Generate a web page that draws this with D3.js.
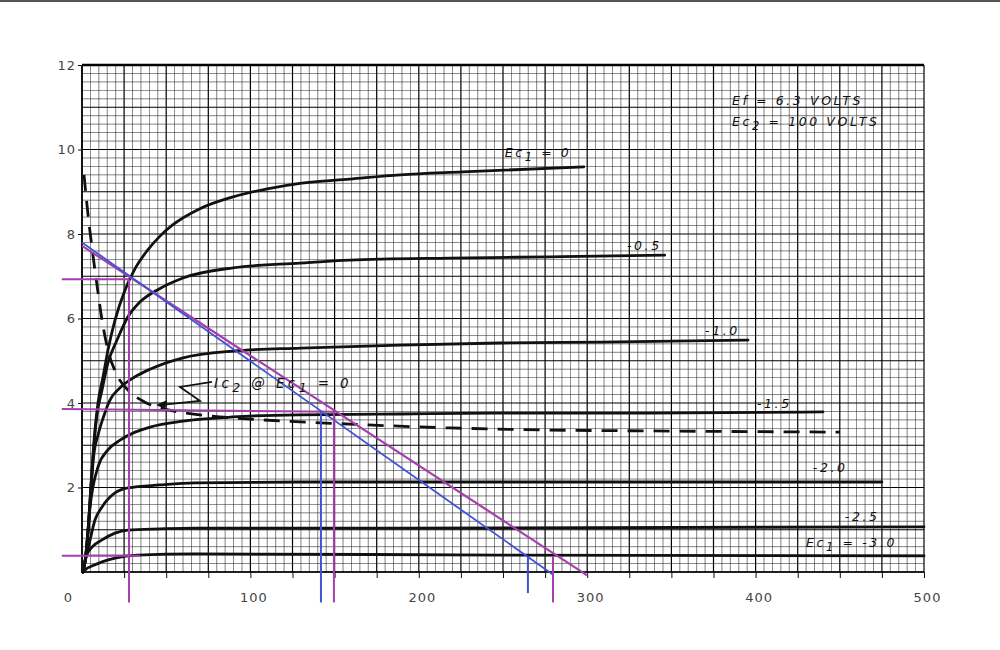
<html>
<meta charset="utf-8">
<script src="https://cdn.jsdelivr.net/npm/d3@7"></script>
<style>
body{ margin:0; background:white; }
.grid-minor{ stroke:#222; stroke-width:0.7; opacity:0.8; }
.grid-major{ stroke:#000; stroke-width:1.2; }
.curve{ fill:none; stroke:#111; stroke-width:2.8; stroke-linecap:round; }
.dashed{ fill:none; stroke:#111; stroke-width:2.8; stroke-dasharray:16,10; }
.note{ font-family:"DejaVu Sans"; font-style:italic; font-size:12.5px; letter-spacing:2.6px; fill:#111; }
.axis text{ font-family:"DejaVu Sans"; font-size:13px; fill:#444; letter-spacing:1px; }
.axis path{ display:none; }
.axis line{ stroke:#111; }
</style>
<body>
<div id="chart"></div>
<script>
// plate characteristics, Ib (mA) vs Eb (volts)
var ec0 = [[0.5,0],[2,0.3],[3.6,1.0],[5.9,2.41],[7.7,3.36],[9.5,4.0],[12.5,4.62],[15.4,5.25],[19.6,5.96],[25.5,6.67],[31.5,7.18],[38.6,7.6],[46.3,7.95],[54,8.22],[70,8.6],[89.7,8.88],[110,9.07],[129.5,9.2],[159,9.3],[189,9.4],[226,9.47],[298,9.59]];
var ec05 = [[0.5,0],[2,0.3],[3.6,0.98],[5.9,2.36],[7.7,3.28],[8.9,3.72],[11.9,4.31],[15.4,4.95],[20.8,5.49],[27.3,6.04],[34.4,6.39],[44.5,6.67],[60,6.96],[89.7,7.2],[129.5,7.31],[159,7.38],[218.5,7.43],[278,7.46],[346,7.5]];
var ec10 = [[0.5,0],[2,0.28],[3.6,0.95],[5.9,2.28],[7.1,2.8],[9.5,3.24],[12.5,3.64],[16.6,4.07],[22.6,4.36],[31.5,4.62],[40.4,4.8],[60,5.07],[89.7,5.23],[129.5,5.3],[189,5.37],[248,5.42],[307.6,5.44],[395.5,5.49]];
var ec15 = [[0.5,0],[2,0.3],[3.6,0.99],[4.8,1.54],[6.5,2.01],[9.5,2.49],[15.4,2.89],[22.6,3.12],[31.5,3.31],[40.4,3.43],[60,3.57],[89.7,3.67],[129.5,3.72],[189,3.74],[248,3.76],[337,3.76],[440,3.79]];
var ec20 = [[0.5,0],[1.8,0.24],[3,0.45],[4.8,0.76],[7.7,1.23],[11.9,1.54],[19.6,1.87],[27.3,1.99],[46.3,2.06],[67,2.11],[129.5,2.13],[248,2.13],[367,2.13],[475,2.13]];
var ec25 = [[0.5,0],[1.2,0.17],[3,0.42],[5.9,0.59],[11.9,0.76],[19.6,0.92],[27.3,0.99],[46.3,1.02],[67,1.04],[189,1.04],[500,1.07]];
var ec30 = [[0.5,0],[2.4,0.07],[5.9,0.14],[11.9,0.24],[19.6,0.33],[33,0.4],[67,0.43],[248,0.4],[500,0.38]];
// screen current at Ec1 = 0
var ic2 = [[1.2,9.4],[3.6,8.45],[6.5,7.5],[8.9,6.79],[11.9,5.96],[15.4,5.25],[20.8,4.66],[28.5,4.26],[37.4,4.02],[52,3.83],[70,3.72],[99.8,3.62],[159,3.5],[218.5,3.41],[278,3.36],[337,3.34],[450,3.31]];

// load lines and read-off lines drawn over the scan
var magentaLoad = [[0,7.72],[300,-0.08]];
var blueLoad = [[0,7.8],[280,-0.07]];
var magentaH = [[[-12,6.93],[27.9,6.93]],[[-12,3.86],[149.6,3.79]],[[-12,0.385],[34.4,0.385]]];
var magentaV = [[[27.9,6.93],[27.9,-0.72]],[[149.6,3.79],[149.6,-0.72]],[[279.7,0.38],[279.7,-0.72]]];
var blueV = [[[141.9,3.81],[141.9,-0.72]],[[264.8,0.36],[264.8,-0.5]]];

var xLabels = [0,100,200,300,400,500];
var yLabels = [2,4,6,8,10,12];

var width = 1000, height = 650;
var svg = d3.select("#chart").append("svg").attr("width",width).attr("height",height);
svg.append("rect").attr("width",width).attr("height",height).attr("fill","white");
svg.append("rect").attr("width",width).attr("height",2).attr("fill","#555");

var x = d3.scaleLinear().domain([0,500]).range([82,924]);
var y = d3.scaleLinear().domain([0,12]).range([572,65]);

// graph paper
var grid = svg.append("g");
d3.range(0,501,5).forEach(function(v){
  grid.append("line").attr("class", v%25==0 ? "grid-major" : "grid-minor")
    .attr("x1",x(v)).attr("x2",x(v)).attr("y1",y(0)).attr("y2",y(12));
});
d3.range(0,61).forEach(function(i){
  var v = i*0.2;
  grid.append("line").attr("class", i%5==0 ? "grid-major" : "grid-minor")
    .attr("x1",x(0)).attr("x2",x(500)).attr("y1",y(v)).attr("y2",y(v));
});
svg.append("line").attr("x1",x(0)).attr("x2",x(500)).attr("y1",y(12)).attr("y2",y(12))
  .attr("stroke","#000").attr("stroke-width",2.6);
svg.append("line").attr("x1",x(0)).attr("x2",x(0)).attr("y1",y(0)).attr("y2",y(12))
  .attr("stroke","#000").attr("stroke-width",1.6);
svg.append("line").attr("x1",x(0)).attr("x2",x(500)).attr("y1",y(0)).attr("y2",y(0))
  .attr("stroke","#000").attr("stroke-width",1.6);

// axes
svg.append("g").attr("class","axis").attr("transform","translate(0,"+y(0)+")")
  .call(d3.axisBottom(x).tickValues(d3.range(25,501,25)).tickSize(6).tickFormat(""));
var xa = svg.append("g").attr("class","axis").attr("transform","translate(0,"+y(0)+")")
  .call(d3.axisBottom(x).tickValues(xLabels).tickSize(0).tickPadding(21).tickFormat(d3.format("d")));
xa.selectAll("text").attr("dx",function(d){ return d==0 ? -14 : 3; });
svg.append("g").attr("class","axis").attr("transform","translate("+x(0)+",0)")
  .call(d3.axisLeft(y).tickValues(yLabels).tickSize(4).tickPadding(2).tickFormat(d3.format("d")));

var line = d3.line().x(function(d){return x(d[0])}).y(function(d){return y(d[1])}).curve(d3.curveMonotoneX);
var straight = d3.line().x(function(d){return x(d[0])}).y(function(d){return y(d[1])});

[ec0,ec05,ec10,ec15,ec20,ec25,ec30].forEach(function(c){
  svg.append("path").attr("class","curve").attr("d",line(c));
});
svg.append("path").attr("class","dashed").attr("d",line(ic2));

// coloured overlays
var magenta = "#a43fae", blue = "#4152d8";
svg.append("path").attr("d",straight(magentaLoad)).attr("stroke",magenta).attr("stroke-width",2.2).attr("fill","none");
svg.append("path").attr("d",straight(blueLoad)).attr("stroke",blue).attr("stroke-width",1.8).attr("fill","none");
magentaH.concat(magentaV).forEach(function(s){
  svg.append("path").attr("d",straight(s)).attr("stroke",magenta).attr("stroke-width",2).attr("fill","none");
});
blueV.forEach(function(s){
  svg.append("path").attr("d",straight(s)).attr("stroke",blue).attr("stroke-width",2).attr("fill","none");
});

// handwritten notes
function note(xv, yv, parts, size){
  var t = svg.append("text").attr("class","note").attr("x",x(xv)).attr("y",y(yv));
  if (size) t.style("font-size",size+"px").style("letter-spacing","3.4px");
  parts.forEach(function(p){
    if (p.sub) t.append("tspan").attr("dy",4).style("font-size",(size||12.5)-1+"px").text(p.s);
    else if (p.up) t.append("tspan").attr("dy",-4).text(p.s);
    else t.append("tspan").text(p.s);
  });
}
note(251,9.82,[{s:"Ec"},{s:"1",sub:1},{s:"  =  0",up:1}]);
note(323.6,7.62,[{s:"-0.5"}]);
note(370,5.61,[{s:"-1.0"}]);
note(400.8,3.88,[{s:"-1.5"}]);
note(434,2.37,[{s:"-2.0"}]);
note(453,1.21,[{s:"-2.5"}]);
note(430,0.59,[{s:"Ec"},{s:"1",sub:1},{s:" = -3.0",up:1}]);
note(386,11.05,[{s:"Ef = 6.3 VOLTS"}]);
note(386,10.56,[{s:"Ec"},{s:"2",sub:1},{s:" = 100 VOLTS",up:1}]);
note(78.4,4.36,[{s:"Ic"},{s:"2",sub:1},{s:" @ Ec",up:1},{s:"1",sub:1},{s:" = 0",up:1}], 13.5);

// zigzag arrow to the dashed curve
var zig = [[77.2,4.5],[58.2,4.38],[70,4.05],[46,3.95]];
svg.append("path").attr("d",straight(zig)).attr("stroke","#111").attr("stroke-width",1.8).attr("fill","none");
svg.append("path")
  .attr("d","M"+x(44)+","+y(3.95)+"l11,-5l-2,9z")
  .attr("fill","#111");
</script>
</body>
</html>
